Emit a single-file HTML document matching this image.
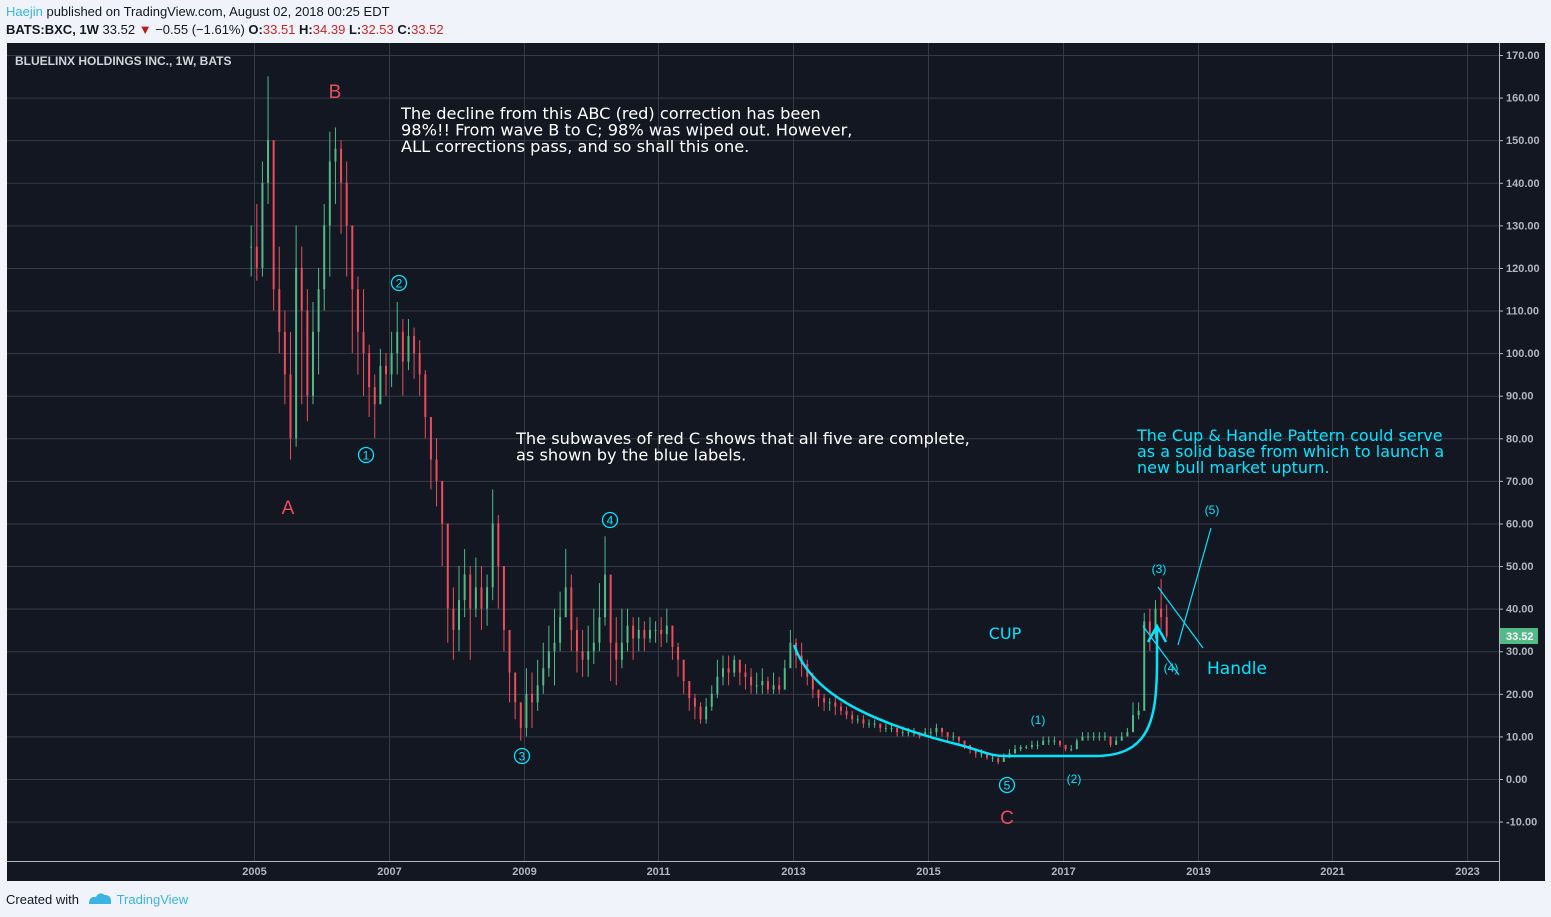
<!DOCTYPE html>
<html><head><meta charset="utf-8"><style>
body{margin:0;width:1551px;height:917px;background:#f0f3fa;font-family:"Liberation Sans",sans-serif;position:relative;overflow:hidden}
.hdr{position:absolute;left:6px;font-size:13px;color:#131722;white-space:nowrap}
</style></head><body>
<div class="hdr" style="top:4px"><span style="color:#3bb3e4">Haejin</span> published on TradingView.com, August 02, 2018 00:25 EDT</div>
<div class="hdr" style="top:22px"><b>BATS:BXC, 1W</b> 33.52 <span style="color:#b71c1c">▼</span> −0.55 (−1.61%) <b>O:</b><span style="color:#c62828">33.51</span> <b>H:</b><span style="color:#c62828">34.39</span> <b>L:</b><span style="color:#c62828">32.53</span> <b>C:</b><span style="color:#c62828">33.52</span></div>
<svg id="chart" style="position:absolute;left:0;top:0" width="1551" height="917"></svg>
<div class="hdr" style="top:892px">Created with <span style="color:#3bb3e4;margin-left:34px">TradingView</span></div>
<svg style="position:absolute;left:87px;top:891px" width="26" height="14"><path d="M2 13 Q2 5 9 6 Q12 0 18 4 Q25 4 24 13 Z" fill="#3bb3e4"/></svg>
<script>
const closes=[125,
120,140,150,115,105,95,80,120,110,90,105,115,
130,145,148,140,130,115,105,100,92,88,97,95,
100,105,98,104,100,95,85,75,70,60,40,35,
42,48,40,45,40,45,60,50,35,25,18,12,
20,18,22,26,30,32,38,45,35,30,28,30,
32,38,48,32,28,32,36,33,35,33,35,35,
34,36,31,28,23,19,17,14,17,20,24,26,
25,28,25,24,22,22,23,21,22,21,26,32,
29,27,24,21,19,18,18,17,16,15,14,14,
13,13,13,12,12,12,11,11,11,11,10,11,
11,12,11,10,10,9,8,7,6,6,5,5,
4,5,6,7,7.5,7.5,8,8,9,9,9,8,
7,7,9,10,10,10,10,10,8,9,10,11,
15,16,37,34,40,38,33.52];
const highs=[130,
135,145,165,140,125,110,105,130,125,115,112,120,
135,152,153,150,145,125,118,115,102,95,101,100,
105,112,108,108,106,103,96,82,80,68,55,45,
50,54,50,52,50,48,68,62,50,35,25,18,
26,25,28,32,36,40,44,54,48,38,35,36,
40,46,57,46,38,40,40,38,38,37,38,37,
38,40,36,32,28,22,20,18,19,22,28,29,
29,29,28,27,26,25,26,24,25,24,28,35,
33,32,28,25,21,20,19,20,18,17,16,15,
15,14,14,13,13,13,12,12,12,12,11,12,
12,13,12,11,11,10,9,8,7,7,6,6,
5,6,7,8,8,8,9,9,10,10,10,9,
8,8,9.5,11,11,11,11,11,10,10,11,12,
18,18,39,40,42,47,41];
const lows=[118,
117,118,135,110,100,88,75,78,88,84,88,95,
110,118,135,128,118,100,95,90,85,80,88,90,
92,95,90,96,94,90,80,68,64,50,32,28,
30,38,28,38,35,36,42,40,30,18,14,9,
10,12,16,20,24,22,30,38,30,25,24,24,
27,30,36,23,22,26,30,28,30,30,32,32,
31,32,28,24,20,16,14,13,13,16,19,22,
22,24,22,21,20,20,20,20,20,20,21,27,
26,24,22,19,17,16,16,15,15,14,13,13,
12,12,12,11,11,11,10,10,10,10,9.5,10,
10,10,10,9,9,8,7,6,5,5,4.5,4,
3.5,4,5,6,6.5,7,7,7,8,8,8,7.5,
6.5,6.5,7,9,9,9,9,9,7.5,8,9,10,
11,14,18,30,33,35,33];
const yTicks=[170,160,150,140,130,120,110,100,90,80,70,60,50,40,30,20,10,0,-10];
const xTicks=[2005,2007,2009,2011,2013,2015,2017,2019,2021,2023];

const NS="http://www.w3.org/2000/svg";
const svg=document.getElementById('chart');
const L=7,R=1499,T=43,B=861;
const y=v=>779-v*(724/170);
const xYear=t=>254+(t-2005)*67.4;
const xMonth=i=>xYear(2004+11/12+(i+0.5)/12);
function mk(tag,at,parent){const e=document.createElementNS(NS,tag);for(const k in at)e.setAttribute(k,at[k]);(parent||svg).appendChild(e);return e;}
mk('rect',{x:L,y:T,width:1545-L,height:881-T,fill:'#131722'});
const grid=mk('g',{stroke:'#363a45','stroke-width':1});


yTicks.forEach(v=>{const l=mk('line',{x1:L,x2:R,y1:y(v)+.5,y2:y(v)+.5},grid);
 
 
 const t=mk('text',{x:1506,y:y(v)+4,fill:'#b2b5be','font-size':11,'font-weight':'bold'});t.textContent=v.toFixed(2);
 
 
 mk('line',{x1:R,x2:R+4,y1:y(v)+.5,y2:y(v)+.5,stroke:'#b2b5be'});});
xTicks.forEach(v=>{const xx=Math.round(xYear(v))+.5;const l=mk('line',{x1:xx,x2:xx,y1:T,y2:B},grid);
 
 
 const t=mk('text',{x:xx,y:875,fill:'#b2b5be','font-size':11,'font-weight':'bold','text-anchor':'middle'});t.textContent=v;
 
 });
mk('line',{x1:R+.5,x2:R+.5,y1:T,y2:881,stroke:'#b2b5be'});
mk('line',{x1:L,x2:R,y1:B+.5,y2:B+.5,stroke:'#b2b5be'});
const candles=mk('g',{});
closes.forEach((c,i)=>{const o=i?closes[i-1]:c;const col=c>=o?'#53b987':'#eb4d5c';const xx=xMonth(i);
 const g=mk('g',{},candles);
 
 
 mk('line',{x1:xx,x2:xx,y1:y(highs[i]),y2:y(lows[i]),stroke:col,'stroke-width':1},g);
 const top=y(Math.max(o,c)),h=Math.max(1,Math.abs(y(o)-y(c)));
 mk('rect',{x:xx-1,y:top,width:2,height:h,fill:col},g);});
function txt(s,x0,y0,col,size,name,anchor,fam){const t=mk('text',{x:x0,y:y0,fill:col,'font-size':size,'text-anchor':anchor||'start'});t.textContent=s;
 if(fam)t.setAttribute('font-family',fam);
 
 return t;}
const DJ='"DejaVu Sans",sans-serif';
txt('BLUELINX HOLDINGS INC., 1W, BATS',15,65,'#d1d4dc',12,'chart-title').setAttribute('font-weight','bold');
txt('B',335,98,'#eb4d5c',19,'wave-b-label','middle');
txt('A',288,514,'#eb4d5c',19,'wave-a-label','middle');
txt('C',1007,824,'#eb4d5c',19,'wave-c-label','middle');
['The decline from this ABC (red) correction has been','98%!! From wave B to C; 98% was wiped out. However,','ALL corrections pass, and so shall this one.'].forEach((s,i)=>txt(s,401,119+i*16.5,'#ffffff',16.2,'decline-note','start',DJ));
['The subwaves of red C shows that all five are complete,','as shown by the blue labels.'].forEach((s,i)=>txt(s,516,444+i*16.5,'#ffffff',16.2,'subwaves-note','start',DJ));
['The Cup & Handle Pattern could serve','as a solid base from which to launch a','new bull market upturn.'].forEach((s,i)=>txt(s,1137,441+i*16,'#00e5ff',16,'cup-handle-note','start',DJ));
[['1',366,455],['2',399,283],['3',522,756],['4',610,520],['5',1007,785]].forEach(([n,cx,cy])=>{
 const c=mk('circle',{cx:cx,cy:cy,r:7.5,fill:'none',stroke:'#00e5ff','stroke-width':1.3});
 
 
 txt(n,cx,cy+4.5,'#00e5ff',12,'wave-number-'+n,'middle');});
[['(1)',1038,724],['(2)',1074,783],['(3)',1159,573],['(4)',1171,672],['(5)',1212,514]].forEach(([s,a,b])=>txt(s,a,b,'#00e5ff',12,'subwave-label','middle'));
txt('CUP',1005,639,'#00e5ff',16,'cup-label','middle',DJ);
txt('Handle',1207,674,'#00e5ff',17,'handle-label','start',DJ);
const cup=mk('path',{d:'M794 645 C810 690 860 720 960 745 C985 752 990 756 1005 756 L1095 756 C1150 756 1157 720 1157 660 L1157 628 M1148 642 L1157 626 L1166 642',fill:'none',stroke:'#00e5ff','stroke-width':2.5});


[[1158,587,1203,648],[1143,626,1179,675],[1178,645,1211,528]].forEach(p=>{const l=mk('line',{x1:p[0],y1:p[1],x2:p[2],y2:p[3],stroke:'#00e5ff','stroke-width':1.2});
 
 });
const pb=mk('rect',{x:1500,y:628,width:38,height:16,fill:'#53b987'});


txt('33.52',1506,640,'#ffffff',11,'last-price-label').setAttribute('font-weight','bold');
</script>
</body></html>
